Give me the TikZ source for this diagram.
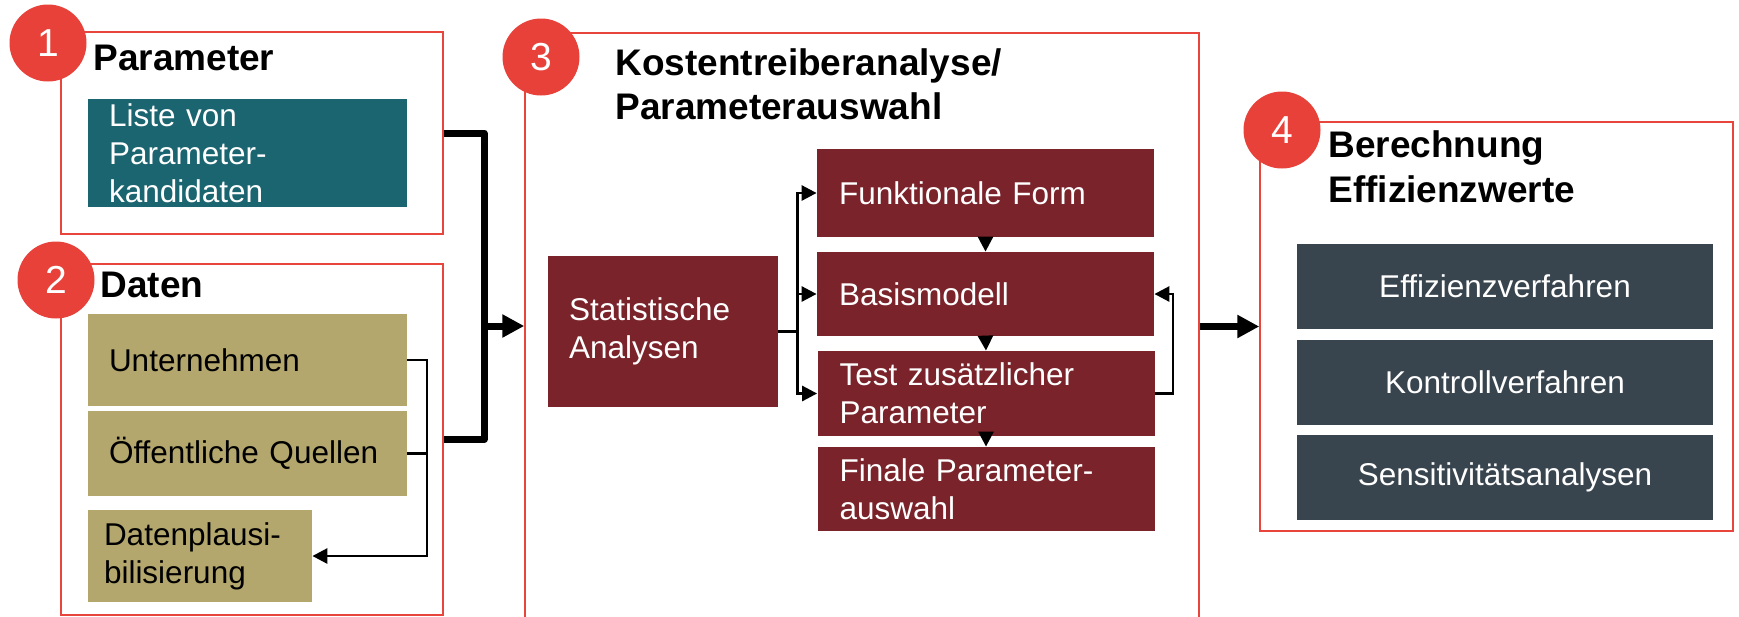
\documentclass[tikz,border=0pt]{standalone}
\usepackage{fontspec}
\setmainfont{Liberation Sans}
\usetikzlibrary{arrows.meta,positioning,calc}
\definecolor{numred}{HTML}{E8413A}
\definecolor{framered}{HTML}{E8453C}
\definecolor{paramteal}{HTML}{1B6570}
\definecolor{datakhaki}{HTML}{B3A76D}
\definecolor{anared}{HTML}{7A232A}
\definecolor{effslate}{HTML}{38444E}
\tikzset{
  phase/.style={draw=framered,line width=0.75pt,inner sep=0pt},
  num/.style={circle,fill=numred,text=white,inner sep=0pt,minimum size=38.5pt,font=\fontsize{19.5}{19.5}\selectfont},
  phasetitle/.style={anchor=base west,inner sep=0pt,align=left,font=\bfseries\fontsize{18.5}{22}\selectfont},
  item/.style={inner xsep=10.5pt,inner ysep=0pt,align=left,font=\fontsize{15.75}{19}\selectfont},
  effitem/.style={fill=effslate,text=white,inner sep=0pt,minimum width=208pt,minimum height=42.5pt,font=\fontsize{15.75}{19}\selectfont},
  thickflow/.style={line width=3.5pt,line join=round},
  thinflow/.style={line width=1.4pt},
  bigtip/.style={-{Triangle[length=11pt,width=11pt]}},
  smalltip/.style={-{Triangle[length=7.5pt,width=7.5pt]}}
}
\begin{document}
\begin{tikzpicture}[x=0.5pt,y=-0.5pt]
  \useasboundingbox (0,0) rectangle (1739,616);
  \clip (0,0) rectangle (1739,616);
  % phase frames
  \node[phase, minimum width=191pt, minimum height=101pt] (param) at (252,133) {};
  \node[phase, minimum width=191pt, minimum height=175.5pt] (daten) at (252,439.5) {};
  \node[phase, minimum width=337pt, minimum height=303.5pt] (kosten) at (862,336.5) {};
  \node[phase, minimum width=236.5pt, minimum height=204.5pt] (berech) at (1496.5,326.5) {};
  \node[phasetitle] at (93,70) {Parameter};
  \node[phasetitle] at (100,297) {Daten};
  \node[phasetitle] at (615,119) {Kostentreiberanalyse/\\Parameterauswahl};
  \node[phasetitle, font=\bfseries\fontsize{18.5}{22.5}\selectfont] at (1328,202) {Berechnung\\Effizienzwerte};
  % 1 + 2
  \node[item, fill=paramteal, text=white, text width=138.5pt, minimum height=54pt] (liste) at (247.5,153) {Liste von\\Parameter-\\kandidaten};
  \node[item, fill=datakhaki, text width=138.5pt, minimum height=46pt] (unt) at (247.5,360) {Unternehmen};
  \node[item, fill=datakhaki, text width=138.5pt, minimum height=42.5pt] (oeff) at (247.5,453.5) {Öffentliche Quellen};
  \node[item, fill=datakhaki, inner xsep=8pt, text width=96pt, minimum height=46pt] (dpl) at (200,556) {Datenplausi-\\bilisierung};
  % 3
  \node[item, fill=anared, text=white, text width=94pt, minimum height=75.5pt] (stat) at (663,331.5) {Statistische\\Analysen};
  \node[item, fill=anared, text=white, inner xsep=11pt, text width=146.5pt, minimum height=44pt] (ff) at (985.5,193) {Funktionale Form};
  \node[item, fill=anared, text=white, inner xsep=11pt, text width=146.5pt, minimum height=42pt] (bm) at (985.5,294) {Basismodell};
  \node[item, fill=anared, text=white, inner xsep=11pt, text width=146.5pt, minimum height=42.5pt] (tz) at (986,393.5) {Test zusätzlicher\\Parameter};
  \node[item, fill=anared, text=white, inner xsep=11pt, text width=146.5pt, minimum height=42pt] (fin) at (986,489) {Finale Parameter-\\auswahl};
  % 4
  \node[effitem] (eff) at (1505,286.5) {Effizienzverfahren};
  \node[effitem, below=5pt of eff] (kon) {Kontrollverfahren};
  \node[effitem, below=4.5pt of kon] (sens) {Sensitivitätsanalysen};
  % connectors
  \coordinate (jx) at (484,326);
  \draw[thickflow] (param.east) -| (jx) |- (daten.east);
  \draw[thickflow, bigtip] (jx) -- (jx -| kosten.west);
  \draw[thickflow, bigtip] (kosten.east |- berech.west) -- (berech.west);
  \coordinate (dj) at (427,556);
  \draw[thinflow, smalltip] (unt.east) -| (dj) -- (dpl.east);
  \draw[thinflow] (oeff.east) -- (oeff.east -| dj);
  \draw[thinflow] (stat.east) -- ++(19,0) coordinate (sj);
  \draw[thinflow, smalltip] (sj) |- (ff.west);
  \draw[thinflow, smalltip] (sj) |- (bm.west);
  \draw[thinflow, smalltip] (sj) |- (tz.west);
  \draw[thinflow, smalltip] (ff.south) -- (bm.north);
  \draw[thinflow, smalltip] (bm.south) -- (tz.north);
  \draw[thinflow, smalltip] (tz.south) -- (fin.north);
  \draw[thinflow, smalltip] (tz.east) -- ++(18,0) |- (bm.east);
  % numbers
  \node[num] (n1) at (48,43) {1};
  \node[num] (n2) at (56,280) {2};
  \node[num] (n3) at (541,57) {3};
  \node[num] (n4) at (1282,130) {4};
\end{tikzpicture}
\end{document}
